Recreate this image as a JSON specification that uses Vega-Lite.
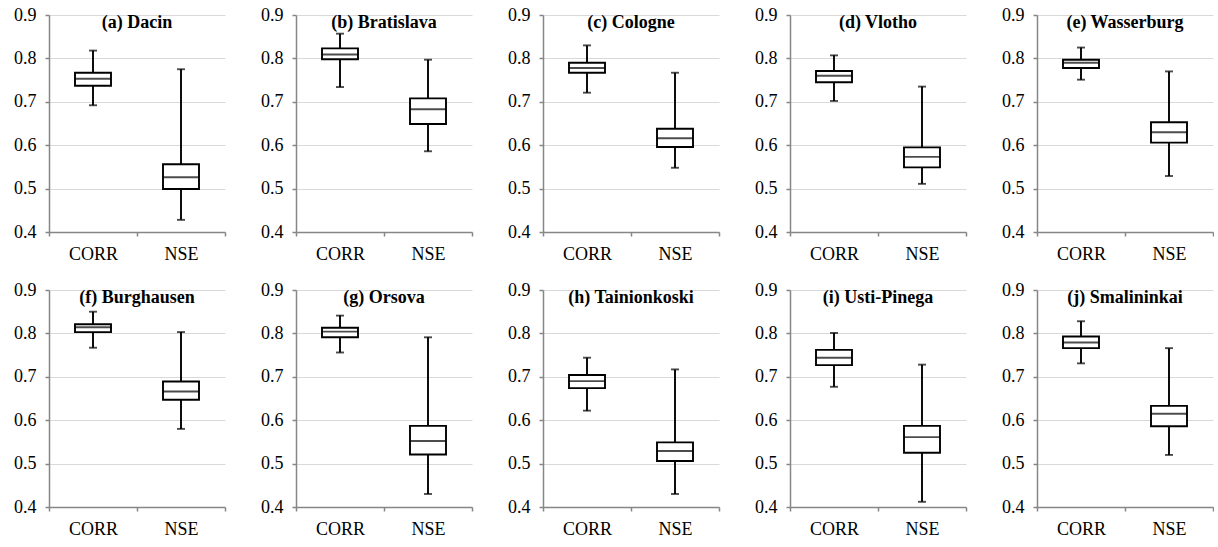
{
"$schema": "https://vega.github.io/schema/vega-lite/v6.json",
"padding": {"left": 13, "top": 6, "right": 0, "bottom": 0},
"background": "white",
"datasets": {
"box": [
{"station": "a", "stat": "CORR", "min": 0.692, "q1": 0.737, "median": 0.753, "q3": 0.767, "max": 0.818},
{"station": "a", "stat": "NSE", "min": 0.428, "q1": 0.499, "median": 0.526, "q3": 0.556, "max": 0.775},
{"station": "b", "stat": "CORR", "min": 0.734, "q1": 0.798, "median": 0.809, "q3": 0.823, "max": 0.857},
{"station": "b", "stat": "NSE", "min": 0.586, "q1": 0.649, "median": 0.683, "q3": 0.708, "max": 0.797},
{"station": "c", "stat": "CORR", "min": 0.721, "q1": 0.767, "median": 0.778, "q3": 0.790, "max": 0.830},
{"station": "c", "stat": "NSE", "min": 0.548, "q1": 0.596, "median": 0.616, "q3": 0.638, "max": 0.767},
{"station": "d", "stat": "CORR", "min": 0.702, "q1": 0.745, "median": 0.760, "q3": 0.771, "max": 0.807},
{"station": "d", "stat": "NSE", "min": 0.511, "q1": 0.549, "median": 0.573, "q3": 0.595, "max": 0.735},
{"station": "e", "stat": "CORR", "min": 0.751, "q1": 0.778, "median": 0.790, "q3": 0.797, "max": 0.825},
{"station": "e", "stat": "NSE", "min": 0.529, "q1": 0.606, "median": 0.630, "q3": 0.653, "max": 0.770},
{"station": "f", "stat": "CORR", "min": 0.767, "q1": 0.803, "median": 0.814, "q3": 0.821, "max": 0.850},
{"station": "f", "stat": "NSE", "min": 0.580, "q1": 0.647, "median": 0.666, "q3": 0.689, "max": 0.803},
{"station": "g", "stat": "CORR", "min": 0.756, "q1": 0.791, "median": 0.804, "q3": 0.813, "max": 0.841},
{"station": "g", "stat": "NSE", "min": 0.430, "q1": 0.521, "median": 0.552, "q3": 0.587, "max": 0.791},
{"station": "h", "stat": "CORR", "min": 0.622, "q1": 0.674, "median": 0.690, "q3": 0.704, "max": 0.744},
{"station": "h", "stat": "NSE", "min": 0.430, "q1": 0.506, "median": 0.529, "q3": 0.549, "max": 0.717},
{"station": "i", "stat": "CORR", "min": 0.677, "q1": 0.727, "median": 0.744, "q3": 0.762, "max": 0.801},
{"station": "i", "stat": "NSE", "min": 0.412, "q1": 0.525, "median": 0.561, "q3": 0.587, "max": 0.728},
{"station": "j", "stat": "CORR", "min": 0.731, "q1": 0.766, "median": 0.779, "q3": 0.793, "max": 0.828},
{"station": "j", "stat": "NSE", "min": 0.520, "q1": 0.586, "median": 0.615, "q3": 0.633, "max": 0.766}
]
},
"data": {"name": "box"},
"vconcat": [
{"spacing": 34, "hconcat": [
{"width": 176, "height": 217, "title": {"text": "(a) Dacin"}, "transform": [{"filter": "datum.station == 'a'"}],
 "encoding": {"x": {"field": "stat", "type": "nominal", "title": null, "scale": {"paddingInner": 0, "paddingOuter": 0}}},
 "layer": [
  {"mark": {"type": "rule", "color": "black", "strokeWidth": 1.9}, "encoding": {"y": {"field": "min", "type": "quantitative", "title": null, "scale": {"domain": [0.4, 0.9], "nice": false}}, "y2": {"field": "max"}}},
  {"mark": {"type": "bar", "fill": "white", "stroke": "black", "strokeWidth": 1.9, "width": 36}, "encoding": {"y": {"field": "q1", "type": "quantitative", "title": null}, "y2": {"field": "q3"}}},
  {"mark": {"type": "tick", "color": "black", "thickness": 1.9, "size": 36}, "encoding": {"y": {"field": "median", "type": "quantitative", "title": null}}},
  {"mark": {"type": "tick", "color": "black", "thickness": 1.9, "size": 8}, "encoding": {"y": {"field": "min", "type": "quantitative", "title": null}}},
  {"mark": {"type": "tick", "color": "black", "thickness": 1.9, "size": 8}, "encoding": {"y": {"field": "max", "type": "quantitative", "title": null}}}
 ]},
{"width": 176, "height": 217, "title": {"text": "(b) Bratislava"}, "transform": [{"filter": "datum.station == 'b'"}],
 "encoding": {"x": {"field": "stat", "type": "nominal", "title": null, "scale": {"paddingInner": 0, "paddingOuter": 0}}},
 "layer": [
  {"mark": {"type": "rule", "color": "black", "strokeWidth": 1.9}, "encoding": {"y": {"field": "min", "type": "quantitative", "title": null, "scale": {"domain": [0.4, 0.9], "nice": false}}, "y2": {"field": "max"}}},
  {"mark": {"type": "bar", "fill": "white", "stroke": "black", "strokeWidth": 1.9, "width": 36}, "encoding": {"y": {"field": "q1", "type": "quantitative", "title": null}, "y2": {"field": "q3"}}},
  {"mark": {"type": "tick", "color": "black", "thickness": 1.9, "size": 36}, "encoding": {"y": {"field": "median", "type": "quantitative", "title": null}}},
  {"mark": {"type": "tick", "color": "black", "thickness": 1.9, "size": 8}, "encoding": {"y": {"field": "min", "type": "quantitative", "title": null}}},
  {"mark": {"type": "tick", "color": "black", "thickness": 1.9, "size": 8}, "encoding": {"y": {"field": "max", "type": "quantitative", "title": null}}}
 ]},
{"width": 176, "height": 217, "title": {"text": "(c) Cologne"}, "transform": [{"filter": "datum.station == 'c'"}],
 "encoding": {"x": {"field": "stat", "type": "nominal", "title": null, "scale": {"paddingInner": 0, "paddingOuter": 0}}},
 "layer": [
  {"mark": {"type": "rule", "color": "black", "strokeWidth": 1.9}, "encoding": {"y": {"field": "min", "type": "quantitative", "title": null, "scale": {"domain": [0.4, 0.9], "nice": false}}, "y2": {"field": "max"}}},
  {"mark": {"type": "bar", "fill": "white", "stroke": "black", "strokeWidth": 1.9, "width": 36}, "encoding": {"y": {"field": "q1", "type": "quantitative", "title": null}, "y2": {"field": "q3"}}},
  {"mark": {"type": "tick", "color": "black", "thickness": 1.9, "size": 36}, "encoding": {"y": {"field": "median", "type": "quantitative", "title": null}}},
  {"mark": {"type": "tick", "color": "black", "thickness": 1.9, "size": 8}, "encoding": {"y": {"field": "min", "type": "quantitative", "title": null}}},
  {"mark": {"type": "tick", "color": "black", "thickness": 1.9, "size": 8}, "encoding": {"y": {"field": "max", "type": "quantitative", "title": null}}}
 ]},
{"width": 176, "height": 217, "title": {"text": "(d) Vlotho"}, "transform": [{"filter": "datum.station == 'd'"}],
 "encoding": {"x": {"field": "stat", "type": "nominal", "title": null, "scale": {"paddingInner": 0, "paddingOuter": 0}}},
 "layer": [
  {"mark": {"type": "rule", "color": "black", "strokeWidth": 1.9}, "encoding": {"y": {"field": "min", "type": "quantitative", "title": null, "scale": {"domain": [0.4, 0.9], "nice": false}}, "y2": {"field": "max"}}},
  {"mark": {"type": "bar", "fill": "white", "stroke": "black", "strokeWidth": 1.9, "width": 36}, "encoding": {"y": {"field": "q1", "type": "quantitative", "title": null}, "y2": {"field": "q3"}}},
  {"mark": {"type": "tick", "color": "black", "thickness": 1.9, "size": 36}, "encoding": {"y": {"field": "median", "type": "quantitative", "title": null}}},
  {"mark": {"type": "tick", "color": "black", "thickness": 1.9, "size": 8}, "encoding": {"y": {"field": "min", "type": "quantitative", "title": null}}},
  {"mark": {"type": "tick", "color": "black", "thickness": 1.9, "size": 8}, "encoding": {"y": {"field": "max", "type": "quantitative", "title": null}}}
 ]},
{"width": 176, "height": 217, "title": {"text": "(e) Wasserburg"}, "transform": [{"filter": "datum.station == 'e'"}],
 "encoding": {"x": {"field": "stat", "type": "nominal", "title": null, "scale": {"paddingInner": 0, "paddingOuter": 0}}},
 "layer": [
  {"mark": {"type": "rule", "color": "black", "strokeWidth": 1.9}, "encoding": {"y": {"field": "min", "type": "quantitative", "title": null, "scale": {"domain": [0.4, 0.9], "nice": false}}, "y2": {"field": "max"}}},
  {"mark": {"type": "bar", "fill": "white", "stroke": "black", "strokeWidth": 1.9, "width": 36}, "encoding": {"y": {"field": "q1", "type": "quantitative", "title": null}, "y2": {"field": "q3"}}},
  {"mark": {"type": "tick", "color": "black", "thickness": 1.9, "size": 36}, "encoding": {"y": {"field": "median", "type": "quantitative", "title": null}}},
  {"mark": {"type": "tick", "color": "black", "thickness": 1.9, "size": 8}, "encoding": {"y": {"field": "min", "type": "quantitative", "title": null}}},
  {"mark": {"type": "tick", "color": "black", "thickness": 1.9, "size": 8}, "encoding": {"y": {"field": "max", "type": "quantitative", "title": null}}}
 ]}
]},
{"spacing": 34, "hconcat": [
{"width": 176, "height": 217, "title": {"text": "(f) Burghausen"}, "transform": [{"filter": "datum.station == 'f'"}],
 "encoding": {"x": {"field": "stat", "type": "nominal", "title": null, "scale": {"paddingInner": 0, "paddingOuter": 0}}},
 "layer": [
  {"mark": {"type": "rule", "color": "black", "strokeWidth": 1.9}, "encoding": {"y": {"field": "min", "type": "quantitative", "title": null, "scale": {"domain": [0.4, 0.9], "nice": false}}, "y2": {"field": "max"}}},
  {"mark": {"type": "bar", "fill": "white", "stroke": "black", "strokeWidth": 1.9, "width": 36}, "encoding": {"y": {"field": "q1", "type": "quantitative", "title": null}, "y2": {"field": "q3"}}},
  {"mark": {"type": "tick", "color": "black", "thickness": 1.9, "size": 36}, "encoding": {"y": {"field": "median", "type": "quantitative", "title": null}}},
  {"mark": {"type": "tick", "color": "black", "thickness": 1.9, "size": 8}, "encoding": {"y": {"field": "min", "type": "quantitative", "title": null}}},
  {"mark": {"type": "tick", "color": "black", "thickness": 1.9, "size": 8}, "encoding": {"y": {"field": "max", "type": "quantitative", "title": null}}}
 ]},
{"width": 176, "height": 217, "title": {"text": "(g) Orsova"}, "transform": [{"filter": "datum.station == 'g'"}],
 "encoding": {"x": {"field": "stat", "type": "nominal", "title": null, "scale": {"paddingInner": 0, "paddingOuter": 0}}},
 "layer": [
  {"mark": {"type": "rule", "color": "black", "strokeWidth": 1.9}, "encoding": {"y": {"field": "min", "type": "quantitative", "title": null, "scale": {"domain": [0.4, 0.9], "nice": false}}, "y2": {"field": "max"}}},
  {"mark": {"type": "bar", "fill": "white", "stroke": "black", "strokeWidth": 1.9, "width": 36}, "encoding": {"y": {"field": "q1", "type": "quantitative", "title": null}, "y2": {"field": "q3"}}},
  {"mark": {"type": "tick", "color": "black", "thickness": 1.9, "size": 36}, "encoding": {"y": {"field": "median", "type": "quantitative", "title": null}}},
  {"mark": {"type": "tick", "color": "black", "thickness": 1.9, "size": 8}, "encoding": {"y": {"field": "min", "type": "quantitative", "title": null}}},
  {"mark": {"type": "tick", "color": "black", "thickness": 1.9, "size": 8}, "encoding": {"y": {"field": "max", "type": "quantitative", "title": null}}}
 ]},
{"width": 176, "height": 217, "title": {"text": "(h) Tainionkoski"}, "transform": [{"filter": "datum.station == 'h'"}],
 "encoding": {"x": {"field": "stat", "type": "nominal", "title": null, "scale": {"paddingInner": 0, "paddingOuter": 0}}},
 "layer": [
  {"mark": {"type": "rule", "color": "black", "strokeWidth": 1.9}, "encoding": {"y": {"field": "min", "type": "quantitative", "title": null, "scale": {"domain": [0.4, 0.9], "nice": false}}, "y2": {"field": "max"}}},
  {"mark": {"type": "bar", "fill": "white", "stroke": "black", "strokeWidth": 1.9, "width": 36}, "encoding": {"y": {"field": "q1", "type": "quantitative", "title": null}, "y2": {"field": "q3"}}},
  {"mark": {"type": "tick", "color": "black", "thickness": 1.9, "size": 36}, "encoding": {"y": {"field": "median", "type": "quantitative", "title": null}}},
  {"mark": {"type": "tick", "color": "black", "thickness": 1.9, "size": 8}, "encoding": {"y": {"field": "min", "type": "quantitative", "title": null}}},
  {"mark": {"type": "tick", "color": "black", "thickness": 1.9, "size": 8}, "encoding": {"y": {"field": "max", "type": "quantitative", "title": null}}}
 ]},
{"width": 176, "height": 217, "title": {"text": "(i)  Usti-Pinega"}, "transform": [{"filter": "datum.station == 'i'"}],
 "encoding": {"x": {"field": "stat", "type": "nominal", "title": null, "scale": {"paddingInner": 0, "paddingOuter": 0}}},
 "layer": [
  {"mark": {"type": "rule", "color": "black", "strokeWidth": 1.9}, "encoding": {"y": {"field": "min", "type": "quantitative", "title": null, "scale": {"domain": [0.4, 0.9], "nice": false}}, "y2": {"field": "max"}}},
  {"mark": {"type": "bar", "fill": "white", "stroke": "black", "strokeWidth": 1.9, "width": 36}, "encoding": {"y": {"field": "q1", "type": "quantitative", "title": null}, "y2": {"field": "q3"}}},
  {"mark": {"type": "tick", "color": "black", "thickness": 1.9, "size": 36}, "encoding": {"y": {"field": "median", "type": "quantitative", "title": null}}},
  {"mark": {"type": "tick", "color": "black", "thickness": 1.9, "size": 8}, "encoding": {"y": {"field": "min", "type": "quantitative", "title": null}}},
  {"mark": {"type": "tick", "color": "black", "thickness": 1.9, "size": 8}, "encoding": {"y": {"field": "max", "type": "quantitative", "title": null}}}
 ]},
{"width": 176, "height": 217, "title": {"text": "(j) Smalininkai"}, "transform": [{"filter": "datum.station == 'j'"}],
 "encoding": {"x": {"field": "stat", "type": "nominal", "title": null, "scale": {"paddingInner": 0, "paddingOuter": 0}}},
 "layer": [
  {"mark": {"type": "rule", "color": "black", "strokeWidth": 1.9}, "encoding": {"y": {"field": "min", "type": "quantitative", "title": null, "scale": {"domain": [0.4, 0.9], "nice": false}}, "y2": {"field": "max"}}},
  {"mark": {"type": "bar", "fill": "white", "stroke": "black", "strokeWidth": 1.9, "width": 36}, "encoding": {"y": {"field": "q1", "type": "quantitative", "title": null}, "y2": {"field": "q3"}}},
  {"mark": {"type": "tick", "color": "black", "thickness": 1.9, "size": 36}, "encoding": {"y": {"field": "median", "type": "quantitative", "title": null}}},
  {"mark": {"type": "tick", "color": "black", "thickness": 1.9, "size": 8}, "encoding": {"y": {"field": "min", "type": "quantitative", "title": null}}},
  {"mark": {"type": "tick", "color": "black", "thickness": 1.9, "size": 8}, "encoding": {"y": {"field": "max", "type": "quantitative", "title": null}}}
 ]}
]}
],
"spacing": 18,
"config": {
 "view": {"stroke": null},
 "font": "Liberation Serif",
 "title": {"font": "Liberation Serif", "fontSize": 18, "fontWeight": "bold", "color": "black", "offset": -26, "anchor": "middle", "baseline": "alphabetic"},
 "axis": {"labelFont": "Liberation Serif", "labelFontSize": 18, "labelColor": "black", "domainColor": "#868686", "domainWidth": 1.5, "tickColor": "#868686", "tickWidth": 1.5, "tickSize": 4, "gridColor": "#d9d9d9", "gridWidth": 1.2},
 "axisX": {"grid": false, "labelAngle": 0, "tickBand": "extent", "labelPadding": 9},
 "axisY": {"grid": true, "tickCount": 5, "format": ".1f", "labelPadding": 9}
}
}
